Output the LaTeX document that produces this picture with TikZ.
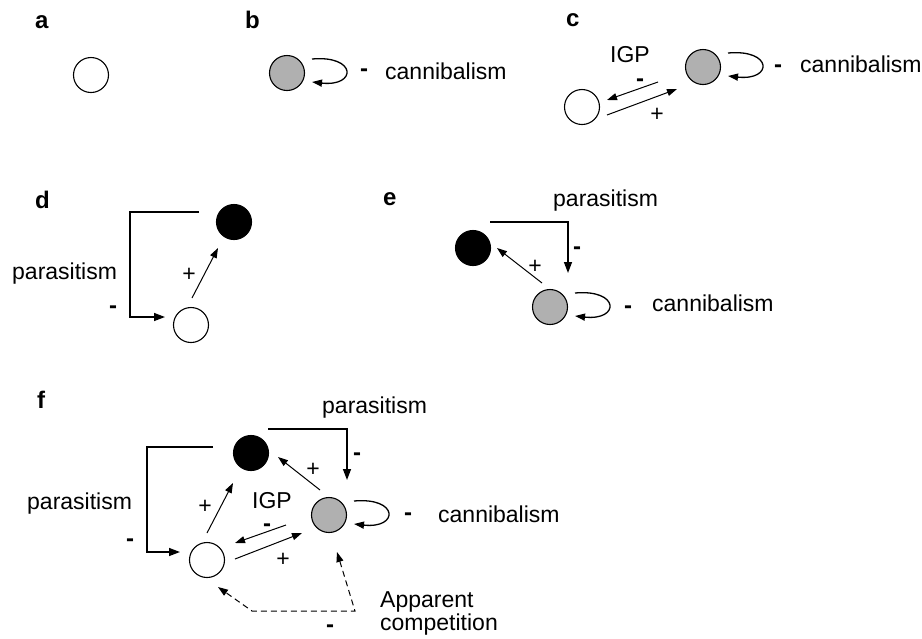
\documentclass[tikz,border=0pt]{standalone}
\usepackage{fontspec}
\setmainfont{Liberation Sans}
\usetikzlibrary{arrows.meta,calc}
\definecolor{spgray}{RGB}{176,176,176}
\begin{document}
\begin{tikzpicture}[x=1pt,y=-1pt,
  every node/.style={font=\fontsize{23}{27}\selectfont},
  sp/.style={circle, draw=black, line width=1.1pt, minimum size=35pt, inner sep=0pt},
  wsp/.style={sp, fill=white},
  gsp/.style={sp, fill=spgray},
  bsp/.style={sp, fill=black},
  arr/.style={-{Triangle[length=10pt,width=7pt]}, line width=1pt},
  brk/.style={-{Triangle[length=11pt,width=8pt]}, line width=1.4pt},
  dsh/.style={{Triangle[length=10pt,width=7pt]}-{Triangle[length=10pt,width=7pt]}, line width=1pt, dash pattern=on 6pt off 4pt},
  loopc/.style={-{Triangle[length=10pt,width=7pt]}, line width=1.3pt},
  panel/.style={inner sep=0pt, anchor=base west, font=\fontsize{24}{28}\selectfont\bfseries},
  txt/.style={inner sep=0pt, anchor=base west},
  sgn/.style={inner sep=0pt, yshift=-3.5pt, font=\fontsize{24}{28}\selectfont\bfseries},
  pls/.style={inner sep=0pt}
]
\useasboundingbox (0,0) rectangle (922,638);

% ---------- panel a ----------
\node[panel] (la) at (35,28) {a};
\node[wsp] (aW) at (91,75) {};

% ---------- panel b ----------
\node[panel] (lb) at (245,28) {b};
\node[gsp] (bG) at (287,73) {};
\draw[loopc] ($(bG)+(25,-14)$) .. controls ($(bG)+(70,-18)$) and ($(bG)+(70,14)$) .. ($(bG)+(25,9)$);
\node[sgn] (bm) at (364,69) {-};
\node[txt] (bt) at (385,79) {cannibalism};

% ---------- panel c ----------
\node[panel] (lc) at (566,26) {c};
\node[gsp] (cG) at (703,67) {};
\node[wsp] (cW) at (582,107) {};
\draw[loopc] ($(cG)+(25,-14)$) .. controls ($(cG)+(70,-18)$) and ($(cG)+(70,14)$) .. ($(cG)+(25,9)$);
\node[sgn] (cm) at (778,65) {-};
\node[txt] (ct) at (800,72) {cannibalism};
\draw[arr] ($(cG)+(-45,15)$) -- ($(cW)+(25,-7)$);
\draw[arr] ($(cW)+(25,8)$) -- ($(cG)+(-26,22)$);
\node[txt] (cigp) at (610,62) {IGP};
\node[sgn] (cim) at (640,79) {-};
\node[pls] (cp) at (657,115) {+};

% ---------- panel d ----------
\node[panel] (ld) at (35,208) {d};
\node[bsp] (dB) at (234,222) {};
\node[wsp] (dW) at (191,325) {};
\draw[brk] ($(dB)+(-35,-10)$) -- ++(-69,0) |- ($(dW)+(-26,-8)$);
\draw[arr] ($(dW)+(1,-27)$) -- ($(dB)+(-16,26)$);
\node[txt] (dt) at (12,279) {parasitism};
\node[sgn] (dm) at (113,306) {-};
\node[pls] (dp) at (189,275) {+};

% ---------- panel e ----------
\node[panel] (le) at (383,205) {e};
\node[bsp] (eB) at (473,248) {};
\node[gsp] (eG) at (550,307) {};
\draw[brk] ($(eB)+(17,-26)$) -- ++(78,0) -- ($(eB)+(95,25)$);
\draw[arr] ($(eG)+(-8,-24)$) -- ($(eB)+(24,0)$);
\draw[loopc] ($(eG)+(25,-14)$) .. controls ($(eG)+(70,-18)$) and ($(eG)+(70,14)$) .. ($(eG)+(25,9)$);
\node[txt] (et) at (553,206) {parasitism};
\node[sgn] (em) at (577,247) {-};
\node[pls] (ep) at (535,267) {+};
\node[sgn] (em2) at (628,306) {-};
\node[txt] (ect) at (652,311) {cannibalism};

% ---------- panel f ----------
\node[panel] (lf) at (37,408) {f};
\node[bsp] (fB) at (251,453) {};
\node[wsp] (fW) at (207,560) {};
\node[gsp] (fG) at (329,515) {};
\draw[brk] ($(fB)+(-38,-6)$) -- ++(-66,0) |- ($(fW)+(-27,-8)$);
\draw[brk] ($(fB)+(17,-24)$) -- ++(79,0) -- ($(fG)+(18,-35)$);
\draw[arr] ($(fW)+(0,-27)$) -- ($(fB)+(-18,30)$);
\draw[arr] ($(fG)+(-9,-25)$) -- ($(fB)+(27,4)$);
\draw[arr] ($(fG)+(-43,10)$) -- ($(fW)+(28,-17)$);
\draw[arr] ($(fW)+(28,-1)$) -- ($(fG)+(-27,18)$);
\draw[loopc] ($(fG)+(25,-14)$) .. controls ($(fG)+(70,-18)$) and ($(fG)+(70,14)$) .. ($(fG)+(25,9)$);
\coordinate (fc1) at ($(fG)+(26,96)$);
\coordinate (fc2) at ($(fW)+(45,51)$);
\draw[dsh] ($(fG)+(8,37)$) -- (fc1) -- (fc2) -- ($(fW)+(11,27)$);
\node[txt] (ft1) at (322,413) {parasitism};
\node[txt] (ft2) at (27,509) {parasitism};
\node[txt] (figp) at (252,508) {IGP};
\node[sgn] (fm2) at (267,524) {-};
\node[sgn] (fm1) at (357,453) {-};
\node[pls] (fp1) at (313,470) {+};
\node[pls] (fp2) at (205,507) {+};
\node[pls] (fp3) at (283,560) {+};
\node[sgn] (fm3) at (408,513) {-};
\node[txt] (fct) at (438,522) {cannibalism};
\node[sgn] (fm4) at (130,539) {-};
\node[sgn] (fm5) at (330,625) {-};
\node[txt] (fa1) at (380,607) {Apparent};
\node[txt] (fa2) at (380,630) {competition};
\end{tikzpicture}
\end{document}
